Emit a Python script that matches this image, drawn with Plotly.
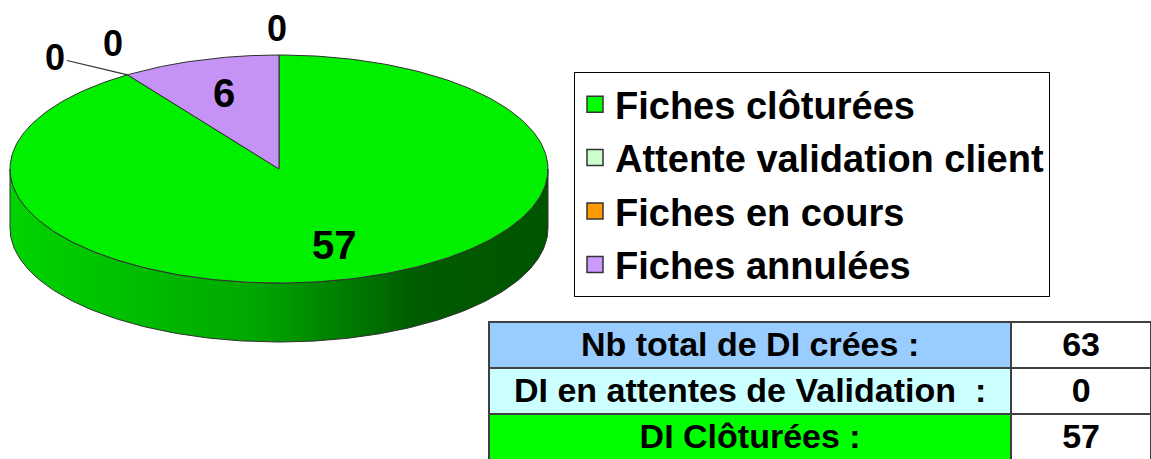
import numpy as np
import plotly.graph_objects as go

# ---- data -------------------------------------------------------------
categories = ["Fiches clôturées", "Attente validation client", "Fiches en cours", "Fiches annulées", None]
slice_values = [57, 0, 0, 6, 0]
top_colors = ["#00F000", "#CCFFCC", "#FF9900", "#C592F5", "#FFFFFF"]
legend_colors = ["#00FF00", "#CCFFCC", "#FF9900", "#CC99FF"]

table_labels = ["Nb total de DI crées :", "DI en attentes de Validation\u00a0 :", "DI Clôturées :"]
table_values = [63, 0, 57]
table_fills = ["#99CCFF", "#CCFFFF", "#00FF00"]

# ---- geometry of the tilted pie (pixel space) -------------------------
W, H = 1151, 459
CX, CY = 279, 169          # centre of the top face
RX, RY = 269, 114          # ellipse radii
DEPTH = 59                 # thickness of the disc
FONT = "Arial, Liberation Sans, sans-serif"
EDGE = "#303030"


def ellipse_pt(theta_deg, dy=0.0):
    t = np.radians(theta_deg)
    return CX + RX * np.sin(t), CY - RY * np.cos(t) + dy


fig = go.Figure()

total = float(sum(slice_values))
bounds = np.concatenate([[0.0], np.cumsum(slice_values) / total * 360.0])

# front wall of the disc (only the part facing the viewer, 90..270 deg)
for i, v in enumerate(slice_values):
    a0, a1 = max(bounds[i], 90.0), min(bounds[i + 1], 270.0)
    if v <= 0 or a1 <= a0:
        continue
    th = np.linspace(a0, a1, 200)
    xt, yt = ellipse_pt(th)
    xb, yb = ellipse_pt(th[::-1], DEPTH)
    fig.add_trace(go.Scatter(
        x=np.concatenate([xt, xb, xt[:1]]), y=np.concatenate([yt, yb, yt[:1]]),
        mode="lines", fill="toself", line=dict(color=EDGE, width=1),
        fillgradient=dict(type="horizontal",
                          colorscale=[[0, "#00D400"], [0.45, "#00A800"],
                                      [0.75, "#005C00"], [1, "#005400"]]),
        hoverinfo="skip", showlegend=False))

# top face slices
for i, v in enumerate(slice_values):
    if v <= 0:
        continue
    th = np.linspace(bounds[i], bounds[i + 1], 300)
    xs, ys = ellipse_pt(th)
    fig.add_trace(go.Scatter(
        x=np.concatenate([[CX], xs, [CX]]), y=np.concatenate([[CY], ys, [CY]]),
        mode="lines", fill="toself", fillcolor=top_colors[i],
        line=dict(color=EDGE, width=1),
        hoverinfo="skip", showlegend=False))

# value labels
zero_offsets = [(-72, -17, True), (-14, -31, False), (-2, -27, False)]
zi = 0
for i, v in enumerate(slice_values):
    if v > 0:
        mid = (bounds[i] + bounds[i + 1]) / 2
        t = np.radians(mid)
        lx, ly = CX + 0.7 * RX * np.sin(t), CY - 0.7 * RY * np.cos(t)
        fig.add_annotation(x=lx, y=ly, text=str(v), showarrow=False,
                           font=dict(family=FONT, size=40, color="black", weight="bold"))
    else:
        ex, ey = ellipse_pt(bounds[i])
        dx, dy, leader = zero_offsets[zi]
        zi += 1
        if leader:
            fig.add_annotation(x=ex, y=ey, ax=dx, ay=dy, text=str(v),
                               showarrow=True, arrowhead=0, arrowwidth=1.2,
                               arrowcolor=EDGE, standoff=0, startstandoff=0,
                               font=dict(family=FONT, size=36, color="black", weight="bold"))
        else:
            fig.add_annotation(x=ex + dx, y=ey + dy, text=str(v), showarrow=False,
                               font=dict(family=FONT, size=36, color="black", weight="bold"))

# legend entries
for name, col in zip(categories, legend_colors):
    fig.add_trace(go.Scatter(
        x=[None], y=[None], mode="markers", name=name, legendgroup=name,
        marker=dict(symbol="square", size=20, color=col,
                    line=dict(color="#333333", width=1.5))))

# summary table
fig.add_trace(go.Table(
    domain=dict(x=[489 / W, 1.0], y=[0.0, 1 - 306 / H]),
    columnwidth=[523, 140],
    header=dict(values=[], height=0, line=dict(width=0),
                fill=dict(color="rgba(0,0,0,0)")),
    cells=dict(values=[table_labels, table_values],
               fill=dict(color=[table_fills, ["white"] * len(table_values)]),
               line=dict(color="#404040", width=1.5),
               align="center", height=46,
               font=dict(family=FONT, size=34, color="black", weight="bold"))))

fig.update_layout(
    width=W, height=H, margin=dict(l=0, r=0, t=0, b=0),
    paper_bgcolor="white", plot_bgcolor="white",
    xaxis=dict(range=[0, W], visible=False, fixedrange=True),
    yaxis=dict(range=[H, 0], visible=False, fixedrange=True),
    showlegend=True,
    legend=dict(x=574 / W, y=1 - 72 / H, xanchor="left", yanchor="top",
                bgcolor="white", bordercolor="black", borderwidth=1,
                tracegroupgap=1,
                font=dict(family=FONT, size=38, color="black", weight="bold")),
)

fig.write_html("out.html")
